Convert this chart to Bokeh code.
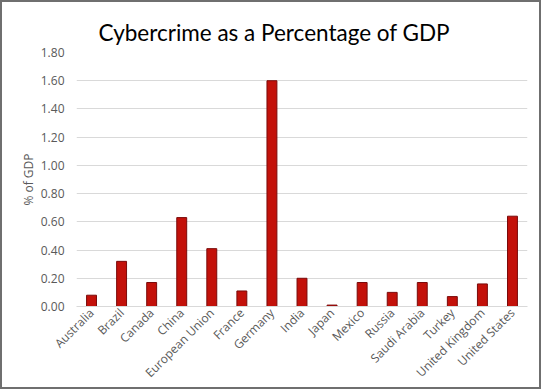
from math import pi
from bokeh.plotting import figure
from bokeh.models import ColumnDataSource, Range1d, Title, CustomJSTickFormatter
from bokeh.embed import file_html
from bokeh.resources import INLINE

countries = ["Australia", "Brazil", "Canada", "China", "European Union", "France",
             "Germany", "India", "Japan", "Mexico", "Russia", "Saudi Arabia",
             "Turkey", "United Kingdom", "United States"]
pct_gdp = [0.08, 0.32, 0.17, 0.63, 0.41, 0.11, 1.60, 0.20, 0.01, 0.17, 0.10, 0.17,
           0.07, 0.16, 0.64]
y_ticks = [0.0, 0.2, 0.4, 0.6, 0.8, 1.0, 1.2, 1.4, 1.6, 1.8]

src = ColumnDataSource(data=dict(country=countries, pct=pct_gdp))

p = figure(x_range=countries, y_range=Range1d(0, 1.8), width=541, height=389,
           output_backend="svg", toolbar_location=None,
           min_border_left=74, min_border_right=16, min_border_top=50,
           min_border_bottom=85)
p.title = Title(text="Cybercrime as a Percentage of GDP", align="left", offset=22,
                text_font="Lato", text_font_size="22.5px", text_font_style="normal",
                text_color="#000000", vertical_align="top", standoff=10)

p.vbar(x="country", top="pct", width=0.33, source=src,
       fill_color="#c3110a", line_color="#7a0a0a", line_width=1)

p.outline_line_color = None
p.xgrid.grid_line_color = None
p.ygrid.grid_line_color = "#d9d9d9"
p.ygrid.ticker = y_ticks

p.yaxis.ticker = y_ticks
p.yaxis.formatter = CustomJSTickFormatter(code="return tick.toFixed(2);")
p.yaxis.axis_line_color = None
p.yaxis.major_tick_line_color = None
p.yaxis.minor_tick_line_color = None
p.yaxis.major_tick_out = 0
p.yaxis.major_tick_in = 0
p.yaxis.minor_tick_out = 0
p.yaxis.major_label_standoff = 12
p.yaxis.major_label_text_font = "Open Sans"
p.yaxis.major_label_text_font_size = "12px"
p.yaxis.major_label_text_color = "#595959"
p.yaxis.axis_label = "% of GDP"
p.yaxis.axis_label_standoff = 1
p.yaxis.axis_label_text_font = "Open Sans"
p.yaxis.axis_label_text_font_size = "12px"
p.yaxis.axis_label_text_font_style = "normal"
p.yaxis.axis_label_text_color = "#595959"

p.xaxis.axis_line_color = "#d9d9d9"
p.xaxis.major_tick_line_color = None
p.xaxis.minor_tick_line_color = None
p.xaxis.major_tick_out = 0
p.xaxis.major_tick_in = 0
p.xaxis.major_label_standoff = 4
p.xaxis.major_label_orientation = pi / 4
p.xaxis.major_label_text_font = "Open Sans"
p.xaxis.major_label_text_font_size = "12px"
p.xaxis.major_label_text_color = "#595959"
p.x_range.range_padding = 0

p.styles = {"border": "2px solid #6f6f6f"}

open("out.html", "w").write(file_html(p, INLINE))
